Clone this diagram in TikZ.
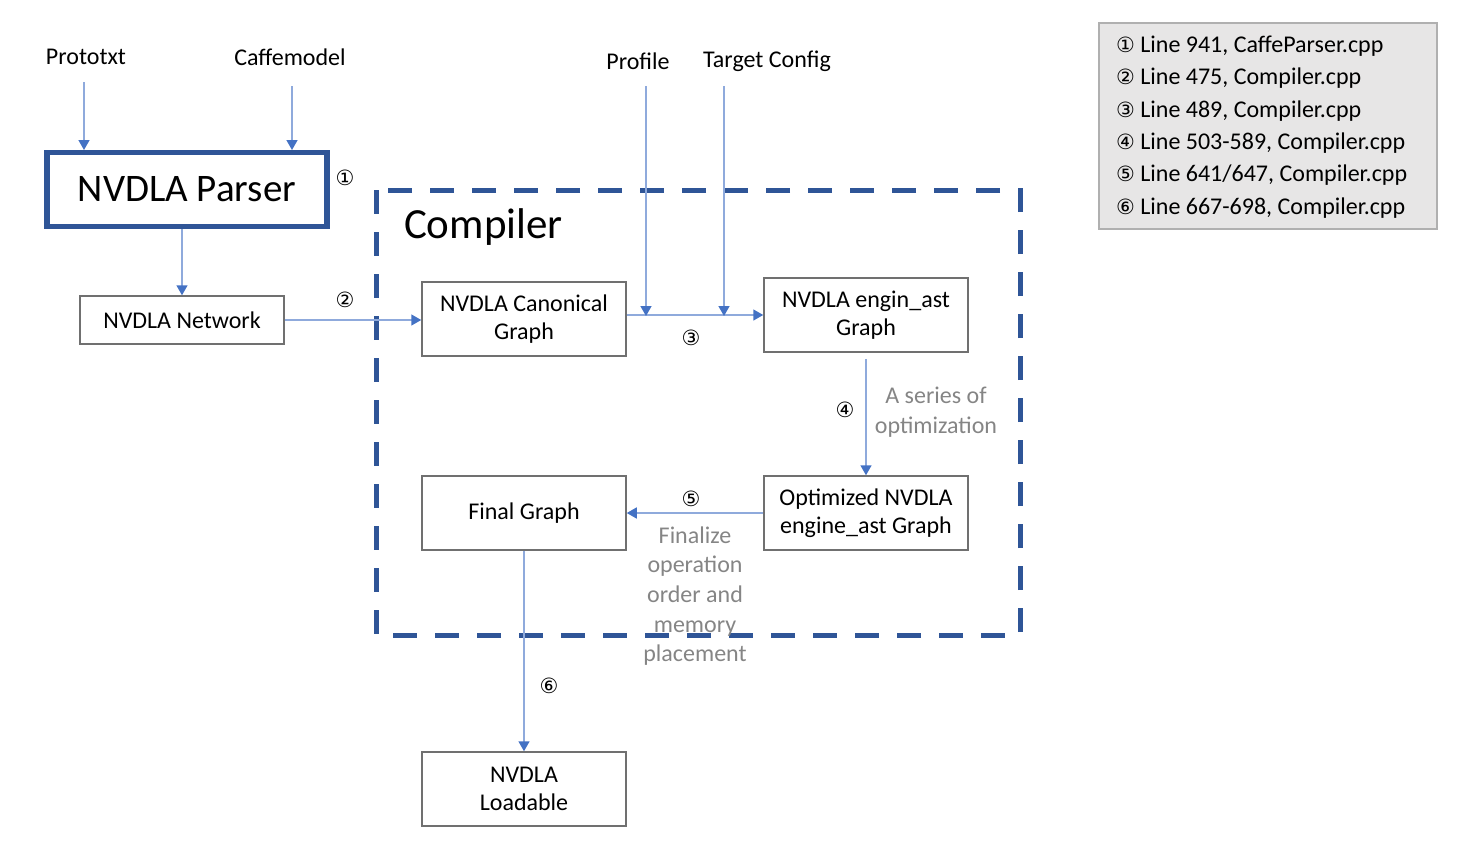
\documentclass[tikz,border=0pt]{standalone}
\usepackage{fontspec}
\setmainfont{Carlito}
\newfontfamily\circfont{DejaVu Sans}
\usetikzlibrary{arrows.meta}
\definecolor{linkblue}{HTML}{8FAADC}
\definecolor{tipblue}{HTML}{4472C4}
\definecolor{darkblue}{HTML}{2F5597}
\definecolor{boxgray}{HTML}{707070}
\definecolor{notegray}{HTML}{858585}
\definecolor{legfill}{HTML}{E7E6E6}
\definecolor{legborder}{HTML}{B0B0B0}
\tikzset{
  every node/.style={font=\fontsize{12}{14.2}\selectfont},
  procbox/.style={draw=boxgray, line width=0.75pt, minimum width=102pt, minimum height=37pt, align=center, inner sep=1pt},
  flow/.style={draw=linkblue, line width=0.75pt, -{Triangle[length=5pt,width=5.5pt,color=tipblue]}},
  circnum/.style={font=\circfont\fontsize{10.5}{12}\selectfont},
  greynote/.style={text=notegray, align=center, font=\fontsize{12}{14.8}\selectfont}
}
\newcommand{\legcirc}[1]{{\circfont\fontsize{10.5}{12}\selectfont #1}}
\begin{document}
\begin{tikzpicture}[x=0.5pt,y=-0.5pt]
\useasboundingbox (0,0) rectangle (1484,848);
% inputs
\node (proto) at (86,57) {Prototxt};
\node (caffe) at (290,57) {Caffemodel};
\node (profile) at (638,61) {Profile};
\node (target) at (767,61) {Target Config};
% parser
\node[draw=darkblue, line width=2.6pt, minimum width=140pt, minimum height=37pt, font=\fontsize{19.5}{22}\selectfont] (parser) at (187,189.5) {NVDLA Parser};
\node[circnum] (c1) at (345,178) {①};
% network
\node[procbox, minimum height=24pt] (network) at (182,320) {NVDLA Network};
\node[circnum] (c2) at (345,300) {②};
% compiler frame
\draw[darkblue, line width=2.5pt, dash pattern=on 12pt off 9pt] (376,190) rectangle (1020,635);
\node[anchor=west, font=\fontsize{21.5}{24}\selectfont] (complabel) at (397,227) {Compiler};
% boxes
\node[procbox] (canon) at (524,319) {NVDLA Canonical\\Graph};
\node[procbox] (engin) at (866,315) {NVDLA engin\_ast\\Graph};
\node[procbox] (optim) at (866,513) {Optimized NVDLA\\engine\_ast Graph};
\node[procbox] (final) at (524,513) {Final Graph};
\node[procbox] (loadable) at (524,789) {NVDLA\\Loadable};
% coordinates
\coordinate (pA) at (84,82);
\coordinate (pB) at (84,150);
\coordinate (cA) at (292,86);
\coordinate (cB) at (292,150);
\coordinate (prA) at (646,86);
\coordinate (prB) at (646,316);
\coordinate (tA) at (724,86);
\coordinate (tB) at (724,316);
% arrows
\draw[flow] (pA) -- (pB);
\draw[flow] (cA) -- (cB);
\draw[flow] (parser.south -| network.north) -- (network.north);
\draw[flow] (network.east) -- (network.east -| canon.west);
\draw[flow] (canon.east |- engin.west) -- (engin.west);
\draw[flow] (prA) -- (prB);
\draw[flow] (tA) -- (tB);
\draw[flow] ([yshift=-3pt]engin.south -| optim.north) -- (optim.north);
\draw[flow] (optim.west) -- (final.east);
\draw[flow] (final.south) -- (loadable.north);
% numbers and notes
\node[circnum] (c3) at (691,338) {③};
\node[circnum] (c4) at (845,410) {④};
\node[greynote] (n4) at (936,412) {A series of\\optimization};
\node[circnum] (c5) at (691,499) {⑤};
\node[greynote] (n5) at (695,596) {Finalize\\operation\\order and\\memory\\placement};
\node[circnum] (c6) at (549,686) {⑥};
% legend
\node[draw=legborder, fill=legfill, line width=0.75pt, minimum width=169pt, minimum height=103pt, anchor=north west, inner sep=0pt] (legend) at (1098,22) {};
\node[anchor=west, align=left, font=\fontsize{12}{16.2}\selectfont] (legtext) at (1109,127) {%
\legcirc{①} Line 941, CaffeParser.cpp\\
\legcirc{②} Line 475, Compiler.cpp\\
\legcirc{③} Line 489, Compiler.cpp\\
\legcirc{④} Line 503-589, Compiler.cpp\\
\legcirc{⑤} Line 641/647, Compiler.cpp\\
\legcirc{⑥} Line 667-698, Compiler.cpp};
\end{tikzpicture}
\end{document}
